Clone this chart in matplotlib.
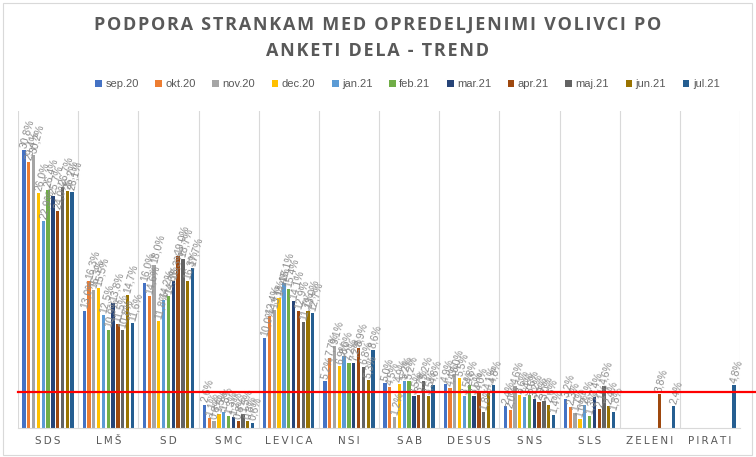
import numpy as np
import matplotlib.pyplot as plt
from matplotlib.lines import Line2D
from matplotlib.patches import Rectangle

nan = np.nan
parties = ['SDS', 'LMŠ', 'SD', 'SMC', 'LEVICA', 'NSI', 'SAB', 'DESUS', 'SNS', 'SLS', 'ZELENI', 'PIRATI']
months = ['sep.20', 'okt.20', 'nov.20', 'dec.20', 'jan.21', 'feb.21',
          'mar.21', 'apr.21', 'maj.21', 'jun.21', 'jul.21']

sep20 = [30.8, 13.0, 16.0, 2.6, 10.0, 5.2, 5.0, 4.9, 2.4, 3.2, nan, nan]
okt20 = [29.4, 16.3, 14.6, 1.1, 12.4, 7.7, 4.5, 4.4, 2.0, 2.3, nan, nan]
nov20 = [30.2, 15.3, 18.0, 0.8, 13.1, 9.1, 1.2, 6.0, 4.6, 1.7, nan, nan]
dec20 = [26.0, 15.5, 11.8, 1.5, 14.4, 6.9, 4.9, 5.5, 3.6, 1.0, nan, nan]
jan21 = [22.9, 12.5, 14.2, 1.8, 16.1, 8.0, 5.2, 3.5, 3.4, 2.5, nan, nan]
feb21 = [26.4, 10.9, 14.6, 1.3, 15.4, 7.2, 5.2, 4.8, 3.6, 1.3, nan, nan]
mar21 = [25.7, 13.8, 16.3, 1.2, 14.1, 7.2, 3.5, 3.5, 3.2, 3.4, nan, nan]
apr21 = [24.0, 11.5, 19.0, 0.8, 12.9, 8.9, 3.7, 4.0, 2.9, 2.1, 3.8, nan]
maj21 = [26.7, 10.8, 18.7, 1.5, 11.7, 6.8, 5.2, 1.8, 3.0, 4.6, nan, nan]
jun21 = [26.2, 14.7, 16.3, 0.8, 13.0, 5.3, 3.5, 4.1, 2.6, 2.4, nan, nan]
jul21 = [26.1, 11.6, 17.7, 0.6, 12.7, 8.6, 4.8, 4.8, 1.4, 1.8, 2.4, 4.8]
series = [sep20, okt20, nov20, dec20, jan21, feb21, mar21, apr21, maj21, jun21, jul21]
threshold = 4.0

colors = ['#4472C4', '#ED7D31', '#A5A5A5', '#FFC000', '#5B9BD5', '#70AD47',
          '#264478', '#9E480E', '#636363', '#997300', '#255E91']

fig = plt.figure(figsize=(7.56, 4.57), dpi=100)
ax = fig.add_axes([18/756, 29/457, 722/756, 317/457])

x = np.arange(len(parties))
step = 0.08
bw = 0.055
for i, vals in enumerate(series):
    vals = np.array(vals, dtype=float)
    pos = x + (i - 5) * step
    ax.bar(pos, np.nan_to_num(vals), width=bw, color=colors[i], label=months[i])
    for p, v in zip(pos, vals):
        if np.isnan(v):
            continue
        ax.text(p - 0.01, v + 0.25, ('%.1f%%' % v).replace('.', ','), rotation=75,
                rotation_mode='anchor', ha='left', va='center', fontsize=7.5,
                color='#8c8c8c', family='Liberation Sans')

ax.set_xlim(-0.5, len(parties) - 0.5)
ax.set_ylim(0, 35.1)
for b in np.arange(-0.5, len(parties), 1.0):
    ax.axvline(b, color='#d9d9d9', lw=0.8, zorder=0)
for s in ['top', 'left', 'right']:
    ax.spines[s].set_visible(False)
ax.spines['bottom'].set_color('#d9d9d9')
ax.set_yticks([])
ax.set_xticks(x)
ax.set_xticklabels(['\u2009'.join(p) for p in parties], fontsize=7.5,
                   color='#595959', family='DejaVu Sans')
ax.tick_params(axis='x', length=0, pad=6)

# red 4% threshold line
y_thr = ax.transData.transform((0, threshold))[1] / fig.dpi / 4.57
fig.add_artist(Line2D([18/756, 1.0], [y_thr, y_thr], color='#FF0000', lw=1.6,
                      transform=fig.transFigure))

def spaced(s):
    return '\u200a'.join(s)

title_font = ['Open Sans', 'DejaVu Sans']
fig.text(0.5, 1 - 25/457, spaced('PODPORA STRANKAM MED OPREDELJENIMI VOLIVCI PO'),
         ha='center', va='center', fontsize=13, fontweight='bold',
         color='#595959', family=title_font)
fig.text(0.5, 1 - 51/457, spaced('ANKETI DELA - TREND'), ha='center', va='center',
         fontsize=13, fontweight='bold', color='#595959', family=title_font)

fig.legend(loc='center', bbox_to_anchor=(0.539, 1 - 84/457), ncol=11, frameon=False,
           handlelength=0.6, handleheight=0.6, handletextpad=0.3,
           columnspacing=1.5, labelcolor='#595959',
           prop={'family': 'Liberation Sans', 'size': 8})

fig.add_artist(Rectangle((3/756, 2/457), 749/756, 452/457, transform=fig.transFigure,
                         fill=False, edgecolor='#d9d9d9', lw=0.8))

fig.savefig('out.png', dpi=100)
